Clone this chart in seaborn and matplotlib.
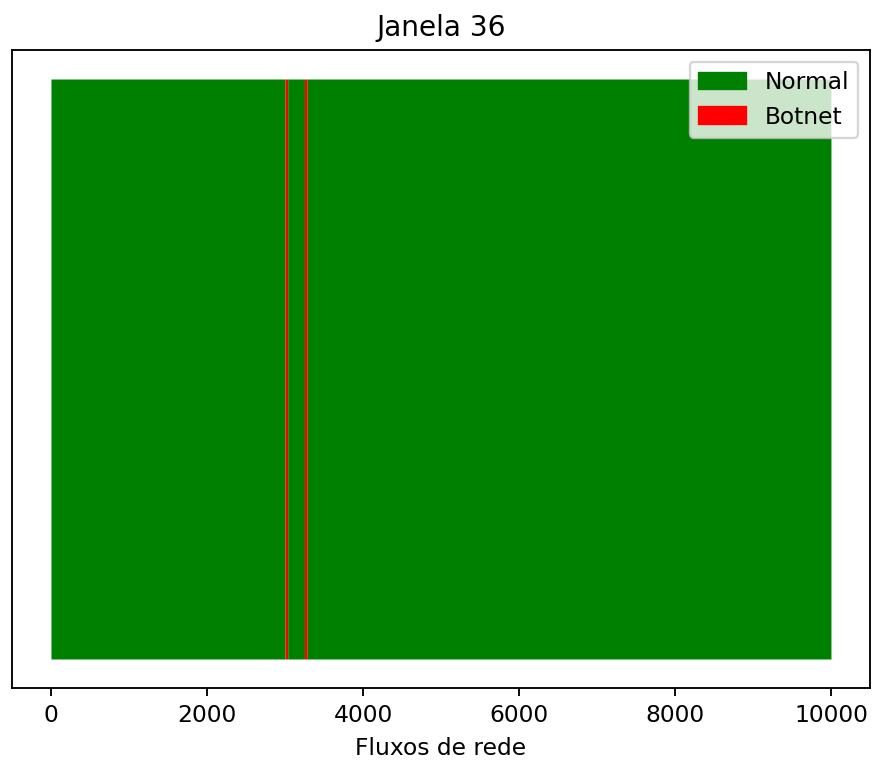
import numpy as np
import pandas as pd
import matplotlib
matplotlib.use("Agg")
import matplotlib.pyplot as plt
from matplotlib.patches import Patch
import seaborn as sns

# --- labels of the 10000 network flows in window 36, as run lengths ---
segment_labels = ['Normal', 'Botnet', 'Normal', 'Botnet', 'Normal']
segment_lengths = [2999, 36, 215, 36, 6714]
class_names = ['Normal', 'Botnet']
class_colors = ['green', 'red']

# expand run lengths into one row per flow
labels = np.repeat(segment_labels, segment_lengths)
df = pd.DataFrame({'flow': np.arange(len(labels)), 'label': labels})

DPI = 168
fig = plt.figure(figsize=(872 / DPI, 765 / DPI), dpi=DPI)
ax = fig.add_axes([12 / 872, 1 - 688 / 765, 858 / 872, 638 / 765])

# each flow is one unit-height bin coloured by its class
sns.histplot(data=df, x='flow', hue='label', hue_order=class_names,
             palette=dict(zip(class_names, class_colors)),
             discrete=True, element='step', fill=True, alpha=1,
             linewidth=0, legend=False, ax=ax)

ax.set_xlim(-500, 10500)
ax.set_ylim(-0.05, 1.05)
ax.set_yticks([])
ax.set_ylabel('')
ax.set_xlabel('Fluxos de rede')
ax.set_title('Janela 36')

handles = [Patch(color=c, label=n) for n, c in zip(class_names, class_colors)]
ax.legend(handles=handles, loc='upper right')

fig.savefig('out.png', dpi=DPI)
